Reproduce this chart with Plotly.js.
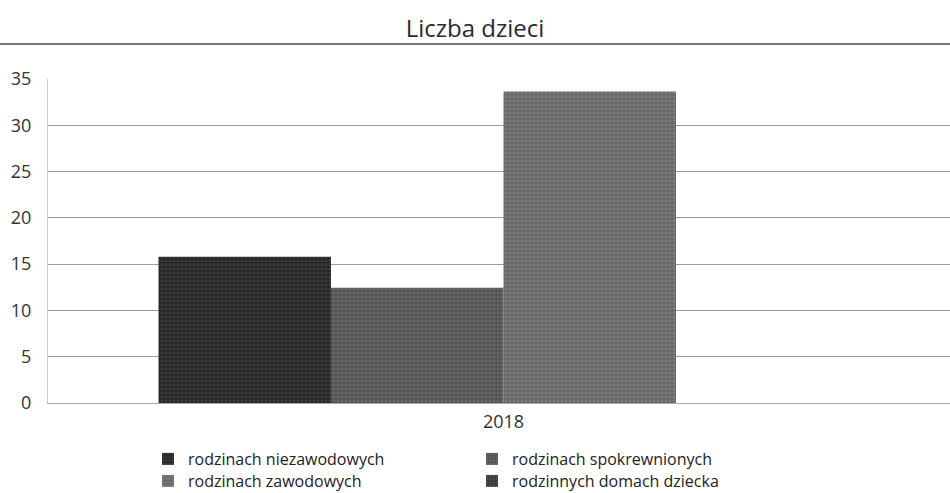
<!DOCTYPE html>
<html>
<head>
<meta charset="utf-8">
<script src="https://cdn.plot.ly/plotly-3.0.1.min.js"></script>
<style>html,body{margin:0;padding:0;background:#fff}#chart{width:950px;height:493px}</style>
</head>
<body>
<div id="chart"></div>
<script>
const categories = ['2018'];
const seriesNames = ['rodzinach niezawodowych', 'rodzinach spokrewnionych', 'rodzinach zawodowych', 'rodzinnych domach dziecka'];
const niezawodowych = [15.8];
const spokrewnionych = [12.45];
const zawodowych = [33.65];
const domachDziecka = [0];
const yTicks = [0, 5, 10, 15, 20, 25, 30, 35];

const values = [niezawodowych, spokrewnionych, zawodowych, domachDziecka];
const colors = ['#262626', '#545454', '#686868', '#3a3a3a'];
const fg = ['#3c3c3c', '#686868', '#7c7c7c', '#505050'];
const legendIds = ['legend', 'legend2', 'legend3', 'legend4'];
// legend placement (pixels): text left edge and row centre
const legendPos = [[188, 459], [512, 459], [188, 481], [512, 481]];

const traces = seriesNames.map((n, i) => ({
  type: 'bar',
  name: n,
  x: categories,
  y: values[i],
  legend: legendIds[i],
  showlegend: true,
  marker: {
    color: colors[i],
    line: {width: 0},
    pattern: {shape: '.', fgcolor: fg[i], bgcolor: colors[i], size: 4, solidity: 0.4}
  },
  hoverinfo: 'x+y+name'
}));

const plotL = 48, plotW = 902, plotT = 79, plotH = 324;
const layout = {
  width: 950, height: 493,
  showlegend: true,
  margin: {l: plotL, r: 0, t: plotT, b: 493 - plotT - plotH, autoexpand: false},
  paper_bgcolor: '#fff', plot_bgcolor: '#fff',
  font: {family: 'Open Sans, Noto Sans, sans-serif', color: '#333', size: 18},
  title: {text: 'Liczba dzieci', x: 0.5, xanchor: 'center', y: 1 - 29 / 493, yanchor: 'middle', font: {size: 24, color: '#2a2a2a'}},
  barmode: 'group', bargap: 0.235, bargroupgap: 0,
  xaxis: {type: 'category', range: [-0.505, 0.495], showline: true, linecolor: '#aaa', linewidth: 1, ticks: '', ticklabelstandoff: 2, tickfont: {size: 18, color: '#333'}, showgrid: false, automargin: false},
  yaxis: {range: [0, 35], tickvals: yTicks, showgrid: true, gridcolor: '#9a9a9a', gridwidth: 1, showline: true, linecolor: '#ccc', zeroline: false, ticks: '', ticklabelstandoff: 12, tickfont: {size: 18, color: '#333'}, automargin: false},
  shapes: [{type: 'line', xref: 'paper', yref: 'paper', x0: -plotL / plotW, x1: 1, y0: (403 - 44) / plotH, y1: (403 - 44) / plotH, line: {color: '#777', width: 2}}]
};
legendIds.forEach((id, i) => {
  layout[id] = {
    visible: true,
    orientation: 'v',
    x: (legendPos[i][0] - 40 - plotL) / plotW, xanchor: 'left',
    y: (403 - legendPos[i][1]) / plotH, yanchor: 'middle',
    font: {size: 16, color: '#222'}, itemwidth: 30, tracegroupgap: 0,
    bgcolor: 'rgba(0,0,0,0)'
  };
});

Plotly.newPlot('chart', traces, layout, {displayModeBar: false, staticPlot: true});
</script>
</body>
</html>
